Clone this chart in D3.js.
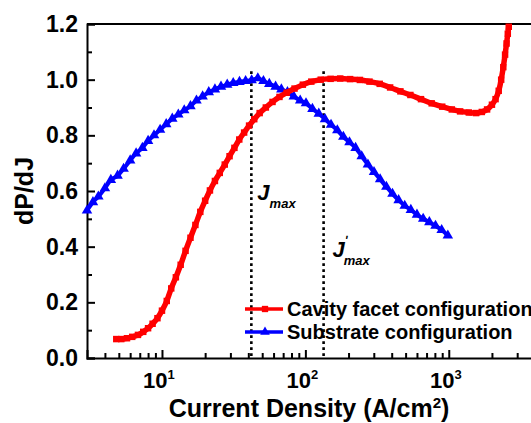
<!DOCTYPE html>
<html lang="en">

<head>
  <meta charset="utf-8">
  <title>dP/dJ vs current density</title>
  <script src="https://d3js.org/d3.v7.min.js"></script>
  <style>
    body { margin: 0; background: #fff; }
    text { font-family: Arial, "Liberation Sans", sans-serif; font-weight: bold; fill: #000; }
    .axis path, .axis line { stroke: #000; stroke-width: 2; }
  </style>
</head>

<body>
  <div id="chart"></div>
  <script>
    // Cavity facet configuration (red squares): [current density, dP/dJ]
    var cavityX = [4.8, 5.2, 5.7, 6.2, 6.8, 7.4, 8.0, 8.6, 9.3, 10, 10.8, 11.6, 12.5, 13.5, 14.6, 15.8,
      17.1, 18.5, 20, 21.6, 23.4, 25.3, 27.4, 29.6, 32, 34.6, 37.4, 40.5, 44, 48, 53, 59, 66, 74, 84,
      96, 110, 128, 150, 175, 205, 240, 280, 330, 390, 460, 540, 640, 760, 900, 1050, 1200, 1380,
      1550, 1700, 1850, 2000, 2120, 2230, 2320, 2400, 2470, 2530, 2580, 2620];
    var cavityY = [0.068, 0.068, 0.071, 0.076, 0.083, 0.094, 0.107, 0.123, 0.143, 0.170, 0.205, 0.250,
      0.290, 0.335, 0.385, 0.432, 0.478, 0.525, 0.565, 0.602, 0.636, 0.665, 0.695, 0.725, 0.755, 0.785,
      0.810, 0.835, 0.858, 0.880, 0.900, 0.920, 0.938, 0.953, 0.968, 0.982, 0.993, 1.000, 1.003, 1.004,
      1.002, 0.999, 0.993, 0.985, 0.972, 0.958, 0.945, 0.930, 0.915, 0.903, 0.893, 0.886, 0.882, 0.880,
      0.884, 0.893, 0.910, 0.930, 0.960, 1.000, 1.045, 1.090, 1.130, 1.165, 1.190];

    // Substrate configuration (blue triangles)
    var substrateX = [3.0, 3.3, 3.6, 4.0, 4.4, 4.9, 5.4, 6.0, 6.6, 7.3, 8.0, 8.8, 9.7, 10.7, 11.8, 13.0,
      14.3, 15.8, 17.4, 19.2, 21.2, 23.4, 25.8, 28.5, 31.4, 34.7, 38.3, 42.2, 46.6, 51, 56, 62, 68, 75,
      83, 92, 101, 112, 124, 137, 151, 167, 184, 203, 224, 247, 273, 301, 332, 367, 405, 447, 493, 544,
      600, 663, 732, 808, 892, 985];
    var substrateY = [0.53, 0.56, 0.58, 0.61, 0.64, 0.655, 0.68, 0.71, 0.735, 0.755, 0.78, 0.80, 0.82,
      0.84, 0.86, 0.875, 0.89, 0.905, 0.925, 0.94, 0.955, 0.965, 0.975, 0.982, 0.988, 0.992, 0.995,
      0.998, 1.005, 0.995, 0.985, 0.975, 0.965, 0.955, 0.94, 0.925, 0.915, 0.895, 0.878, 0.858, 0.838,
      0.818, 0.795, 0.775, 0.755, 0.725, 0.695, 0.668, 0.642, 0.615, 0.59, 0.567, 0.547, 0.532, 0.515,
      0.50, 0.488, 0.475, 0.46, 0.44];

    var yTicks = [0.0, 0.2, 0.4, 0.6, 0.8, 1.0, 1.2];
    var yMinor = [0.1, 0.3, 0.5, 0.7, 0.9, 1.1];
    var xTicks = [10, 100, 1000];
    var xMinor = [4, 5, 6, 7, 8, 9, 20, 30, 40, 50, 60, 70, 80, 90, 200, 300, 400, 500, 600, 700, 800, 900, 2000, 3000, 4000];
    var jmax = [42, 134];
    var legendNames = ['Cavity facet configuration', 'Substrate configuration'];

    function draw() {
      var w = 531, h = 423;
      var margin = {top: 24, left: 87, bottom: 65};
      var plotRight = 549;
      var innerH = h - margin.top - margin.bottom;

      var svg = d3.select('#chart').append('svg')
        .attr('width', w)
        .attr('height', h);

      var x = d3.scaleLog().domain([3, 5000]).range([margin.left, plotRight]);
      var y = d3.scaleLinear().domain([0, 1.2]).range([margin.top + innerH, margin.top]);

      // frame top
      svg.append('line')
        .attr('x1', margin.left).attr('x2', plotRight)
        .attr('y1', y(1.2)).attr('y2', y(1.2))
        .attr('stroke', '#000').attr('stroke-width', 2);

      // axes, ticks inward
      svg.append('g').attr('class', 'axis')
        .attr('transform', 'translate(0,' + y(0) + ')')
        .call(d3.axisBottom(x).tickValues(xTicks).tickSize(-8).tickFormat(''));
      svg.append('g').attr('class', 'axis minor')
        .attr('transform', 'translate(0,' + y(0) + ')')
        .call(d3.axisBottom(x).tickValues(xMinor).tickSize(-5).tickFormat(''))
        .select('.domain').remove();
      svg.append('g').attr('class', 'axis')
        .attr('transform', 'translate(' + margin.left + ',0)')
        .call(d3.axisLeft(y).tickValues(yTicks).tickSize(-8).tickFormat(''));
      svg.append('g').attr('class', 'axis minor')
        .attr('transform', 'translate(' + margin.left + ',0)')
        .call(d3.axisLeft(y).tickValues(yMinor).tickSize(-5).tickFormat(''))
        .select('.domain').remove();

      // tick labels
      svg.selectAll('.ylabel').data(yTicks).enter().append('text')
        .attr('class', 'ylabel')
        .attr('x', margin.left - 9)
        .attr('y', function(d) { return y(d) + 8; })
        .attr('text-anchor', 'end')
        .style('font-size', '23px')
        .text(function(d) { return d.toFixed(1); });

      var xl = svg.selectAll('.xlabel').data(xTicks).enter().append('text')
        .attr('class', 'xlabel')
        .attr('x', function(d) { return x(d) - 3; })
        .attr('y', 388)
        .attr('text-anchor', 'middle')
        .style('font-size', '22px');
      xl.append('tspan').text('10');
      xl.append('tspan').attr('dy', -9).style('font-size', '13px')
        .text(function(d) { return Math.round(Math.log10(d)); });

      // axis titles
      var xt = svg.append('text')
        .attr('x', 309).attr('y', 417)
        .attr('text-anchor', 'middle')
        .style('font-size', '25px');
      xt.append('tspan').text('Current Density (A/cm');
      xt.append('tspan').attr('dy', -9).style('font-size', '15px').text('2');
      xt.append('tspan').attr('dy', 9).text(')');

      svg.append('text')
        .attr('transform', 'translate(33,' + y(0.6) + ') rotate(-90)')
        .attr('text-anchor', 'middle')
        .style('font-size', '25px')
        .text('dP/dJ');

      // dotted markers for Jmax
      svg.selectAll('.jline').data(jmax).enter().append('line')
        .attr('class', 'jline')
        .attr('x1', function(d) { return x(d); })
        .attr('x2', function(d) { return x(d); })
        .attr('y1', y(1.03)).attr('y2', y(0))
        .attr('stroke', '#000').attr('stroke-width', 2.6)
        .attr('stroke-dasharray', '2.6,3.4');

      var cavity = cavityX.map(function(d, i) { return [d, cavityY[i]]; });
      var substrate = substrateX.map(function(d, i) { return [d, substrateY[i]]; });

      var line = d3.line()
        .x(function(d) { return x(d[0]); })
        .y(function(d) { return y(d[1]); })
        .curve(d3.curveMonotoneX);

      var series = [
        {data: substrate, color: '#0000ff', symbol: d3.symbolTriangle, size: 48, width: 4},
        {data: cavity, color: '#ff0000', symbol: d3.symbolSquare, size: 42, width: 5.5}
      ];

      series.forEach(function(s) {
        svg.append('path')
          .datum(s.data)
          .attr('d', line)
          .attr('fill', 'none')
          .attr('stroke', s.color)
          .attr('stroke-width', s.width);
        svg.selectAll(null).data(s.data).enter().append('path')
          .attr('transform', function(d) { return 'translate(' + [x(d[0]), y(d[1])] + ')'; })
          .attr('d', d3.symbol().type(s.symbol).size(s.size))
          .attr('fill', s.color);
      });

      // J labels
      var j1 = svg.append('text').attr('x', x(jmax[0]) + 6).attr('y', 200)
        .style('font-style', 'italic').style('font-size', '22px');
      j1.append('tspan').text('J');
      j1.append('tspan').attr('dy', 8).style('font-size', '13px').text('max');

      var j2 = svg.append('text').attr('x', x(jmax[1]) + 9).attr('y', 257)
        .style('font-style', 'italic').style('font-size', '22px');
      j2.append('tspan').text('J');
      j2.append('tspan').attr('dy', -12).style('font-size', '12px').text('\u02B9');
      j2.append('tspan').attr('dx', -4).attr('dy', 20).style('font-size', '13px').text('max');

      // legend
      var legendColors = ['#ff0000', '#0000ff'];
      var legendSymbols = [d3.symbolSquare, d3.symbolTriangle];
      legendNames.forEach(function(name, i) {
        var ly = 309 + i * 23;
        svg.append('line')
          .attr('x1', 245).attr('x2', 283)
          .attr('y1', ly).attr('y2', ly)
          .attr('stroke', legendColors[i]).attr('stroke-width', 3.5);
        svg.append('path')
          .attr('transform', 'translate(265,' + ly + ')')
          .attr('d', d3.symbol().type(legendSymbols[i]).size(40))
          .attr('fill', legendColors[i]);
        svg.append('text')
          .attr('x', 287).attr('y', ly + 7)
          .style('font-size', '20px')
          .text(name);
      });
    }

    draw();
  </script>
</body>

</html>
